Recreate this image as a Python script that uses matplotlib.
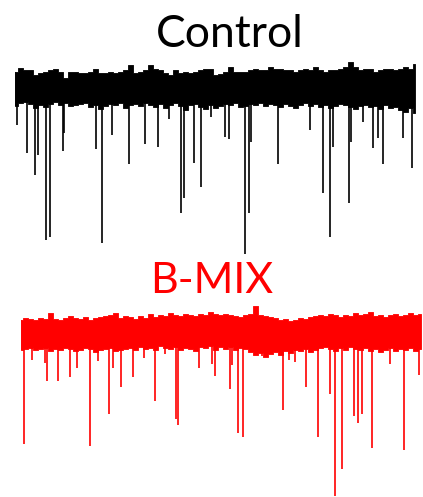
import numpy as np
import matplotlib
matplotlib.use("Agg")
import matplotlib.pyplot as plt

# time grid for noise envelope (s), 0.5 s steps
env_t = np.arange(0, 40.01, 0.5)

# Control: noise band envelope (pA from baseline)
ctrl_top = [16, 20, 18, 18, 13, 15, 16, 18, 19, 16, 10, 16, 16, 15, 15, 16, 19, 15, 15, 16,
            15, 16, 18, 23, 15, 16, 18, 23, 19, 18, 15, 13, 18, 15, 16, 15, 16, 18, 19, 19,
            13, 14, 16, 21, 16, 16, 16, 18, 19, 18, 18, 21, 19, 19, 18, 18, 16, 18, 19, 18,
            21, 18, 16, 18, 18, 19, 21, 26, 21, 18, 19, 19, 16, 18, 19, 19, 18, 19, 21, 19, 24]
ctrl_bot = [-18, -15, -14, -16, -20, -17, -19, -16, -14, -17, -15, -18, -17, -16, -15, -19, -17, -21, -18, -16,
            -17, -15, -20, -17, -16, -18, -15, -17, -19, -16, -20, -17, -15, -18, -22, -17, -16, -19, -21, -17,
            -20, -18, -16, -17, -15, -19, -18, -16, -17, -15, -18, -16, -17, -19, -16, -18, -20, -17, -15, -18,
            -16, -19, -17, -20, -18, -16, -17, -19, -21, -18, -17, -19, -18, -21, -17, -20, -19, -22, -24, -20, -25]
# Control: events (time s, peak amplitude pA)
ctrl_ev_t = [0.17, 1.17, 2.0, 2.27, 3.07, 3.5, 4.77, 4.93, 8.1, 8.67, 9.67, 11.37, 13.0, 14.27,
             15.4, 16.6, 16.87, 17.87, 18.6, 19.57, 21.0, 21.43, 23.0, 23.43, 23.57, 26.33, 29.5,
             30.83, 31.5, 31.83, 33.4, 33.6, 34.77, 35.8, 36.33, 36.77, 38.77, 39.7]
ctrl_ev_amp = [-37, -65, -87, -67, -152, -149, -63, -45, -61, -155, -47, -76, -56, -59,
               -31, -125, -110, -75, -99, -29, -49, -51, -166, -125, -54, -76, -42,
               -105, -149, -59, -115, -54, -34, -60, -50, -76, -50, -80]

# B-MIX: noise band envelope (pA from baseline)
bmix_top = [13, 15, 14, 13, 15, 14, 20, 14, 13, 15, 17, 15, 14, 16, 13, 15, 16, 17, 18, 20,
            15, 17, 16, 14, 17, 15, 19, 16, 18, 17, 20, 18, 17, 19, 18, 17, 19, 18, 21, 19, 18,
            19, 18, 17, 16, 18, 19, 27, 18, 17, 16, 15, 13, 14, 12, 13, 15, 14, 16, 17, 18,
            17, 19, 18, 16, 18, 17, 20, 18, 19, 21, 17, 18, 16, 18, 19, 17, 18, 20, 18, 19]
bmix_bot = [-17, -16, -15, -17, -16, -15, -18, -16, -17, -15, -16, -18, -17, -15, -16, -19, -17, -16, -15, -18,
            -17, -16, -15, -17, -14, -16, -15, -17, -13, -15, -16, -14, -17, -15, -16, -18, -14, -15, -13, -17, -14,
            -16, -14, -17, -15, -16, -19, -22, -20, -24, -21, -19, -22, -18, -20, -17, -18, -16, -19, -17, -15,
            -14, -16, -18, -15, -17, -14, -16, -17, -15, -18, -16, -19, -17, -15, -18, -16, -17, -15, -18, -16]
bmix_ev_t = [0.33, 1.1, 2.43, 2.6, 3.7, 4.93, 5.63, 6.93, 7.76, 8.83, 9.26, 10.0, 11.26, 12.36,
             13.43, 14.4, 15.53, 15.7, 17.86, 19.1, 19.43, 20.93, 21.13, 21.76, 22.2, 24.1, 26.2,
             26.83, 27.43, 28.5, 29.73, 30.93, 31.4, 32.13, 33.33, 33.7, 34.1, 35.1, 36.93, 38.33, 39.86]
bmix_ev_amp = [-111, -27, -30, -48, -48, -44, -35, -113, -28, -81, -35, -54, -44, -25,
               -68, -21, -86, -92, -35, -31, -43, -56, -32, -100, -104, -23, -77,
               -27, -29, -54, -104, -61, -163, -136, -83, -90, -81, -115, -31, -117, -42]

W, H = 423, 497
fig = plt.figure(figsize=(W / 100, H / 100), dpi=100)


def draw_trace(rect, top, bot, ev_t, ev_amp, color, ylim):
    ax = fig.add_axes(rect)
    ax.fill_between(env_t, bot, top, color=color, lw=0.6, step='mid')
    ax.vlines(ev_t, ev_amp, 0, color=color, lw=1.2)
    ax.vlines([0], min(bot[0], 0), top[0], color=color, lw=1.2)
    ax.set_xlim(0, 40)
    ax.set_ylim(*ylim)
    ax.axis('off')
    return ax


draw_trace([15 / W, (H - 260) / H, 400 / W, 205 / H], ctrl_top, ctrl_bot,
           ctrl_ev_t, ctrl_ev_amp, 'black', (-172, 33))
draw_trace([20.7 / W, 0, 400 / W, 197 / H], bmix_top, bmix_bot,
           bmix_ev_t, bmix_ev_amp, '#ff0000', (-164, 33))

fig.text(229.5 / W, 1 - 47 / H, 'Control', ha='center', va='baseline',
         fontsize=32, family='Lato', color='black')
fig.text(212 / W, 1 - 293 / H, 'B-MIX', ha='center', va='baseline',
         fontsize=31, family='Lato', color='#ff0000')

fig.savefig('out.png', dpi=100)
